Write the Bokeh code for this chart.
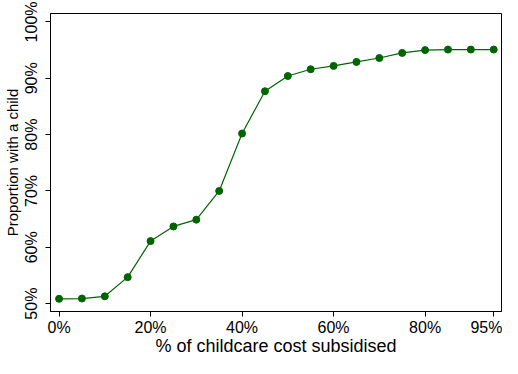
from bokeh.plotting import figure
from bokeh.models import Range1d, FixedTicker, CustomJSTickFormatter
from bokeh.embed import file_html
from bokeh.resources import INLINE

subsidy = [0, 5, 10, 15, 20, 25, 30, 35, 40, 45, 50, 55, 60, 65, 70, 75, 80, 85, 90, 95]
share = [50.85, 50.9, 51.3, 54.7, 61.1, 63.7, 64.9, 70.0, 80.2, 87.7,
         90.4, 91.6, 92.2, 92.9, 93.6, 94.5, 95.0, 95.1, 95.1, 95.1]
x_ticks = [0, 20, 40, 60, 80, 95]
y_ticks = [50, 60, 70, 80, 90, 100]
x_title = "% of childcare cost subsidised"
y_title = "Proportion with a child"

FONT = "Liberation Sans"
GREEN = "#006400"

p = figure(width=502, height=358, output_backend="svg", toolbar_location=None,
           x_range=Range1d(-1.87, 96.7), y_range=Range1d(48.6, 101.5),
           min_border_left=45, min_border_right=1, min_border_top=13, min_border_bottom=30)
p.background_fill_color = "white"
p.border_fill_color = "white"
p.outline_line_color = "black"
p.outline_line_width = 1
p.grid.visible = False

p.line(subsidy, share, line_color=GREEN, line_width=1.2)
p.scatter(subsidy, share, size=7, fill_color=GREEN, line_color=GREEN)

fmt = CustomJSTickFormatter(code="return tick.toFixed(0) + '%';")
for ax in (p.xaxis[0], p.yaxis[0]):
    ax.formatter = fmt
    ax.axis_line_color = "black"
    ax.major_tick_line_color = "black"
    ax.major_tick_out = 5
    ax.major_tick_in = 0
    ax.minor_tick_line_color = None
    ax.major_label_text_font = FONT
    ax.major_label_text_font_size = "16px"
    ax.major_label_text_color = "black"
    ax.axis_label_text_font = FONT
    ax.axis_label_text_font_style = "normal"
    ax.axis_label_text_color = "black"

p.xaxis.ticker = FixedTicker(ticks=x_ticks)
p.yaxis.ticker = FixedTicker(ticks=y_ticks)
p.xaxis.axis_label = x_title
p.xaxis.axis_label_text_font_size = "18px"
p.xaxis.axis_label_standoff = -3
p.xaxis.major_label_standoff = 2
p.yaxis.axis_label = y_title
p.yaxis.axis_label_text_font_size = "15px"
p.yaxis.axis_label_standoff = 0
p.yaxis.major_label_standoff = 5
p.yaxis.major_label_orientation = "parallel"

open("out.html", "w").write(file_html(p, INLINE))
